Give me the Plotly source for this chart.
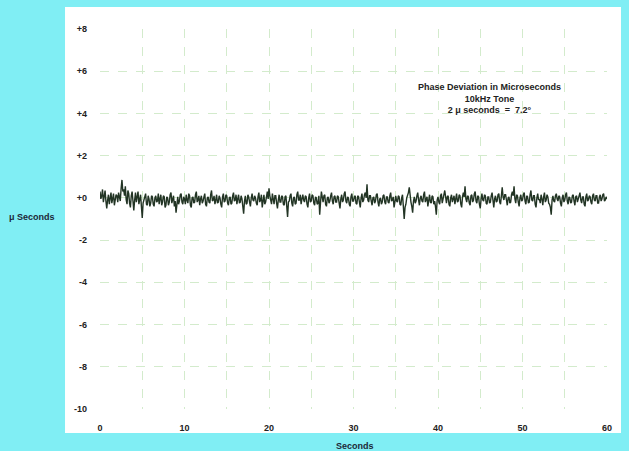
import plotly.graph_objects as go

# Phase deviation samples (microseconds), one every 0.1 s from 0 to 60 s
SAMPLE_START = 0.0
SAMPLE_STEP = 0.1
phase_us = [
    0.30, -0.05, 0.10, 0.40, -0.20, 0.05, 0.35, -0.15, -0.50, -0.10, 0.15, -0.30, 0.05, 0.25, -0.25, 0.10, 0.20, -0.35, -0.10, 0.15,
    0.10, -0.20, 0.25, 0.05, -0.15, 0.45, 0.85, 0.30, 0.40, 0.10, 0.55, -0.10, -0.30, 0.35, 0.20, -0.25, -0.45, 0.10, 0.30, -0.15,
    -0.60, -0.10, 0.25, -0.20, 0.05, 0.30, -0.30, 0.00, 0.15, -0.40, -0.95, -0.25, -0.10, 0.05, 0.20, -0.30, -0.35, 0.10, -0.05, -0.40,
    -0.25, 0.10, 0.05, -0.30, -0.40, 0.00, 0.10, -0.20, -0.15, 0.20, -0.30, -0.05, 0.15, -0.35, -0.20, 0.10, 0.05, -0.45, -0.35, 0.05,
    0.00, -0.35, -0.20, 0.15, 0.25, -0.25, -0.10, 0.10, -0.40, -0.15, -0.70, -0.20, 0.05, -0.30, -0.15, 0.15, 0.20, -0.20, -0.30, 0.05,
    -0.05, -0.30, 0.15, -0.10, -0.25, 0.20, 0.10, -0.35, -0.45, 0.00, 0.05, -0.25, -0.20, 0.15, 0.30, -0.20, -0.10, 0.10, -0.35, -0.05,
    0.10, -0.25, -0.15, 0.05, 0.20, -0.30, -0.40, 0.00, 0.05, -0.20, -0.25, 0.15, 0.35, -0.15, -0.10, 0.10, -0.30, -0.10, 0.15, -0.25,
    -0.20, 0.10, 0.00, -0.30, -0.45, 0.05, 0.20, -0.20, -0.15, 0.15, 0.10, -0.25, -0.35, 0.00, 0.05, -0.30, -0.25, 0.10, 0.25, -0.15,
    -0.10, 0.15, -0.30, -0.05, 0.15, -0.25, -0.20, 0.10, -0.05, -0.40, -0.75, -0.15, 0.10, -0.30, -0.25, 0.15, 0.05, -0.20, -0.40, 0.00,
    0.20, -0.10, -0.15, 0.10, 0.00, -0.25, -0.35, 0.05, 0.25, -0.20, -0.10, 0.15, -0.45, -0.15, 0.15, -0.30, -0.20, 0.05, 0.30, -0.05,
    0.45, 0.10, -0.05, -0.30, 0.20, 0.00, -0.30, 0.10, 0.10, -0.25, -0.50, -0.10, 0.15, -0.20, -0.20, 0.10, 0.05, -0.30, -0.35, 0.05,
    0.10, -0.40, -0.90, -0.20, -0.15, 0.10, 0.20, -0.25, -0.40, 0.00, 0.05, -0.30, -0.25, 0.15, 0.30, -0.10, -0.10, 0.15, -0.30, -0.05,
    0.15, -0.10, -0.20, 0.10, 0.05, -0.30, -0.45, 0.00, 0.20, -0.20, -0.15, 0.15, 0.10, -0.25, -0.35, 0.05, 0.00, -0.30, -0.25, 0.10,
    -0.80, -0.20, 0.30, 0.05, -0.20, 0.10, 0.15, -0.30, -0.40, 0.00, 0.05, -0.25, -0.15, 0.10, 0.25, -0.15, -0.30, 0.05, 0.10, -0.20,
    -0.20, 0.10, 0.05, -0.25, -0.50, -0.05, 0.15, -0.20, -0.10, 0.20, 0.30, -0.15, -0.25, 0.05, 0.00, -0.30, -0.40, 0.05, 0.20, -0.15,
    -0.15, 0.05, 0.10, -0.25, -0.30, 0.10, 0.05, -0.20, -0.45, 0.00, 0.20, -0.20, -0.10, 0.15, 0.25, 0.00, 0.65, -0.10, -0.20, 0.10,
    0.10, -0.15, -0.35, 0.00, 0.05, -0.25, -0.15, 0.15, 0.20, -0.20, -0.40, -0.05, 0.00, -0.30, -0.20, 0.10, 0.15, -0.20, -0.30, 0.05,
    0.05, -0.20, -0.25, 0.10, 0.25, -0.15, -0.10, 0.05, -0.45, -0.20, 0.10, -0.15, -0.20, 0.10, 0.05, -0.30, -0.35, 0.00, 0.15, -0.40,
    -1.00, -0.45, -0.30, 0.00, 0.10, 0.25, 0.50, -0.05, -0.20, -0.40, -0.70, -0.15, 0.05, -0.25, -0.15, 0.10, 0.25, -0.10, -0.35, 0.00,
    0.10, -0.15, -0.20, 0.15, 0.30, -0.20, -0.10, 0.05, -0.40, -0.10, 0.15, -0.20, -0.25, 0.10, 0.05, -0.30, -0.15, -0.40, -0.80, -0.10,
    0.05, -0.20, -0.30, 0.10, 0.20, -0.25, -0.10, 0.15, 0.35, -0.05, -0.25, 0.05, 0.10, -0.30, -0.40, 0.00, 0.15, -0.20, -0.05, 0.10,
    -0.30, 0.00, 0.20, -0.20, -0.15, 0.15, 0.10, -0.30, -0.45, 0.05, 0.25, 0.05, 0.55, -0.05, -0.20, 0.10, 0.05, -0.25, -0.35, 0.10,
    0.15, -0.20, -0.10, 0.20, 0.30, -0.15, -0.25, 0.10, 0.05, -0.30, -0.50, -0.05, 0.20, -0.10, -0.15, 0.15, 0.10, -0.25, -0.30, 0.05,
    0.05, -0.25, -0.20, 0.10, 0.25, -0.10, -0.45, -0.05, 0.10, -0.20, -0.15, 0.15, 0.20, -0.20, -0.30, 0.10, 0.50, 0.05, -0.10, 0.15,
    0.15, -0.10, -0.35, 0.00, 0.05, -0.25, -0.20, 0.15, 0.30, 0.10, 0.55, -0.05, -0.25, 0.15, 0.10, -0.20, -0.40, 0.00, 0.15, -0.15,
    -0.10, 0.15, 0.25, -0.15, -0.30, 0.10, 0.05, -0.25, -0.20, 0.15, 0.35, -0.10, -0.15, 0.10, 0.10, -0.30, -0.45, 0.00, 0.20, -0.10,
    -0.05, -0.25, 0.15, -0.05, -0.35, 0.05, 0.25, -0.20, -0.10, 0.15, 0.05, -0.25, -0.30, -0.45, -0.80, -0.10, 0.10, -0.15, -0.20, 0.10,
    0.20, -0.05, -0.15, 0.10, 0.05, -0.25, -0.40, 0.00, 0.15, -0.20, -0.10, 0.15, 0.25, -0.15, -0.30, 0.05, 0.00, -0.25, -0.20, 0.10,
    0.15, -0.15, -0.35, 0.05, 0.10, -0.20, -0.05, 0.15, 0.25, -0.10, -0.25, 0.05, 0.05, -0.30, -0.40, 0.05, 0.20, -0.15, -0.10, 0.10,
    0.05, -0.20, -0.30, 0.10, 0.20, -0.10, -0.15, 0.10, 0.10, -0.25, -0.25, 0.05, 0.15, -0.15, -0.05, 0.15, 0.20, -0.15, -0.10, 0.05,
    -0.05,
]

x_tickvals = [0, 10, 20, 30, 40, 50, 60]
x_ticktext = ["0", "10", "20", "30", "40", "50", "60"]
y_tickvals = [8, 6, 4, 2, 0, -2, -4, -6, -8, -10]
y_ticktext = ["+8", "+6", "+4", "+2", "+0", "-2", "-4", "-6", "-8", "-10"]

note_lines = ["Phase Deviation in Microseconds", "10kHz Tone", "2 \u03bc seconds  =  7.2\u00b0"]
x_title = "Seconds"
y_title = "\u03bc Seconds"

CYAN = "#80EEF4"
GRID = "#d3ebcc"
FONT = "Liberation Sans, Arial, sans-serif"

fig = go.Figure()
fig.add_trace(go.Scatter(
    y=phase_us, x0=SAMPLE_START, dx=SAMPLE_STEP,
    mode="lines",
    line=dict(color="#223424", width=1.4),
    hoverinfo="skip",
    showlegend=False,
))

axis_font = dict(family=FONT, size=9, color="#222222", weight="bold")

fig.update_layout(
    width=629, height=451,
    margin=dict(l=100, r=22, t=29, b=42),
    paper_bgcolor=CYAN,
    plot_bgcolor="white",
    xaxis=dict(
        range=[0, 60], tickvals=x_tickvals, ticktext=x_ticktext,
        showgrid=True, gridcolor=GRID, gridwidth=1, griddash="dash",
        minor=dict(dtick=5, showgrid=True, gridcolor=GRID, gridwidth=1, griddash="dash"),
        zeroline=False, showline=False, ticks="",
        tickfont=axis_font, ticklabelstandoff=12,
    ),
    yaxis=dict(
        range=[-10, 8], tickvals=y_tickvals, ticktext=y_ticktext,
        showgrid=True, gridcolor=GRID, gridwidth=1, griddash="dash",
        zeroline=False, showline=False, ticks="",
        tickfont=axis_font, ticklabelstandoff=12,
    ),
    shapes=[dict(
        type="rect", xref="paper", yref="paper",
        x0=-0.069, x1=1.0276, y0=-0.063, y1=1.058,
        fillcolor="white", line=dict(width=0), layer="below",
    )],
    annotations=[
        dict(
            text="<br>".join(note_lines), xref="paper", yref="paper",
            x=0.769, y=0.866, xanchor="center", yanchor="top",
            showarrow=False, align="center",
            font=dict(family=FONT, size=9, color="#222222", weight="bold"),
        ),
        dict(
            text=x_title, xref="paper", yref="paper",
            x=0.503, y=-0.097, xanchor="center", yanchor="middle",
            showarrow=False,
            font=dict(family=FONT, size=9, color="#1c2838", weight="bold"),
        ),
        dict(
            text=y_title, xref="paper", yref="paper",
            x=-0.135, y=0.505, xanchor="center", yanchor="middle",
            showarrow=False,
            font=dict(family=FONT, size=9, color="#1c2838", weight="bold"),
        ),
    ],
)

fig.write_html(
    "out.html",
    config={"displayModeBar": False},
    post_script="document.body.style.margin='0';",
)
